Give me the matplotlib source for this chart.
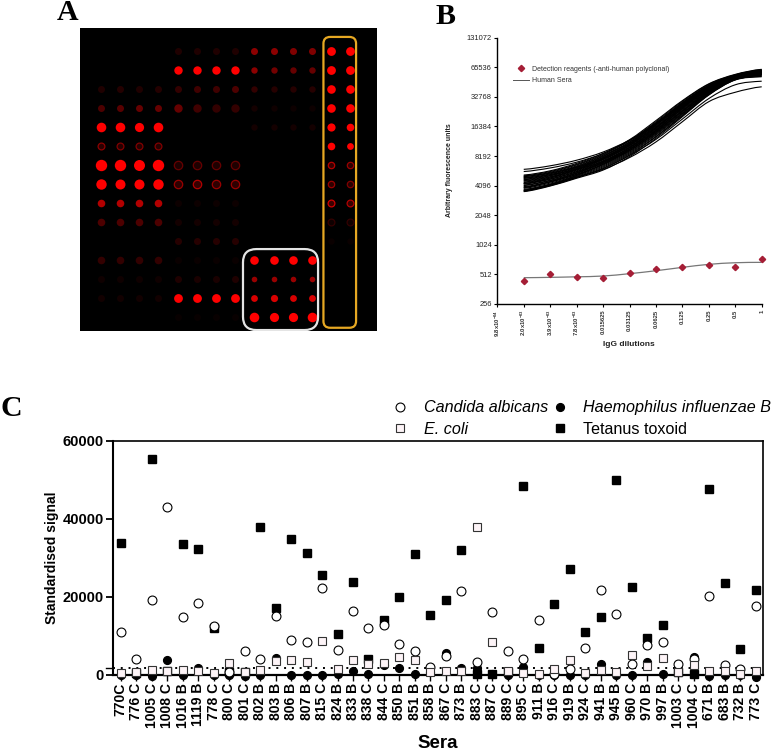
import math
import matplotlib
matplotlib.use("Agg")
import matplotlib.pyplot as plt
from matplotlib.lines import Line2D
from matplotlib.patches import FancyBboxPatch, PathPatch
from matplotlib.path import Path

plt.rcParams['font.family'] = ['Liberation Sans', 'DejaVu Sans']
plt.rcParams['mathtext.fontset'] = 'custom'
plt.rcParams['mathtext.rm'] = 'Liberation Sans:bold'
plt.rcParams['mathtext.default'] = 'rm'

W, H = 772, 753

# Panel A: red level of each spot, 15 rows x 14 columns
spot_level = [
    [0, 0, 0, 0, .12, .12, .12, .12, .55, .55, .5, .5, 1, 1],
    [0, 0, 0, 0, 1, 1, 1, 1, .55, .45, .4, .4, 1, 1],
    [.12, .14, .12, .14, .2, .25, .25, .3, .2, .15, .15, .15, 1, 1],
    [.3, .35, .4, .4, .4, .25, .2, .2, .08, .06, .05, .05, 1, 1],
    [1, 1, 1, 1, 0, 0, 0, 0, .08, .08, .08, .08, 1, 1],
    [.55, .5, .5, .5, 0, 0, 0, 0, 0, 0, 0, 0, 1, 1],
    [1, 1, 1, 1, .4, .4, .4, .4, 0, 0, 0, 0, .7, .6],
    [1, 1, 1, 1, .6, .7, .6, .6, 0, 0, 0, 0, .6, .5],
    [.7, .7, .7, .7, .05, .05, .05, .05, 0, 0, 0, 0, .8, .7],
    [.3, .3, .3, .3, .08, .08, .08, .08, 0, 0, 0, 0, .2, .2],
    [0, 0, 0, 0, .15, .15, .15, .15, 0, 0, 0, 0, .04, .04],
    [.2, .2, .2, .2, .04, .04, .04, .04, 1, 1, 1, 1, 0, 0],
    [.06, .06, .06, .06, .12, .1, .1, .12, .6, .6, .6, .6, 0, 0],
    [.07, .07, .07, .07, 1, 1, 1, 1, .85, .85, .85, .85, 0, 0],
    [0, 0, 0, 0, .03, .03, .03, .03, 1, 1, 1, 1, 0, 0],
]
spot_radius = [
    [3.5, 3.5, 3.5, 3.5, 3.5, 3.5, 3.5, 3.5, 3.5, 3.5, 3.5, 3.5, 4.4, 4.4],
    [3.5, 3.5, 3.5, 3.5, 4.2, 4.2, 4.2, 4.2, 3.2, 3.2, 3.2, 3.2, 4.4, 4.4],
    [3.5, 3.5, 3.5, 3.5, 3.5, 3.5, 3.5, 3.5, 3.2, 3.2, 3.2, 3.2, 4.3, 4.3],
    [3.5, 3.5, 3.5, 3.5, 4.2, 4.2, 4.2, 4.2, 3.2, 3.2, 3.2, 3.2, 4.3, 4.3],
    [4.8, 4.8, 4.6, 4.8, 3.5, 3.5, 3.5, 3.5, 3.2, 3.2, 3.2, 3.2, 4.1, 3.8],
    [3.4, 3.4, 3.4, 3.4, 3.5, 3.5, 3.5, 3.5, 3.2, 3.2, 3.2, 3.2, 3.8, 3.4],
    [5.7, 5.7, 5.5, 5.7, 4.2, 4.2, 4.2, 4.2, 3.2, 3.2, 3.2, 3.2, 3.2, 3.2],
    [5.2, 5.0, 5.0, 5.2, 4.2, 4.2, 4.2, 4.2, 3.2, 3.2, 3.2, 3.2, 3.2, 3.2],
    [3.8, 3.8, 3.8, 3.8, 3.5, 3.5, 3.5, 3.5, 3.2, 3.2, 3.2, 3.2, 3.4, 3.4],
    [3.8, 3.8, 3.8, 3.8, 3.5, 3.5, 3.5, 3.5, 3.2, 3.2, 3.2, 3.2, 3.4, 3.4],
    [3.5, 3.5, 3.5, 3.5, 3.5, 3.5, 3.5, 3.5, 3.2, 3.2, 3.2, 3.2, 3.2, 3.2],
    [3.8, 3.8, 3.8, 3.8, 3.5, 3.5, 3.5, 3.5, 4.3, 4.3, 4.3, 4.3, 3.2, 3.2],
    [3.5, 3.5, 3.5, 3.5, 3.5, 3.5, 3.5, 3.5, 2.8, 2.8, 2.8, 2.8, 3.2, 3.2],
    [3.5, 3.5, 3.5, 3.5, 4.4, 4.4, 4.4, 4.4, 3.4, 3.6, 3.4, 3.4, 3.2, 3.2],
    [3.5, 3.5, 3.5, 3.5, 3.5, 3.5, 3.5, 3.5, 4.8, 4.6, 4.6, 4.8, 3.2, 3.2],
]
# spots that show as a ring, (row, column)
ring_spots = [(5, 0), (5, 1), (5, 2), (5, 3),
              (6, 4), (6, 5), (6, 6), (6, 7),
              (7, 4), (7, 5), (7, 6), (7, 7),
              (6, 12), (6, 13), (7, 12), (7, 13), (8, 12), (8, 13), (9, 12), (9, 13)]

# Panel B
dilution_labels = ["9.8x10$^{-04}$", "2.0x10$^{-03}$", "3.9x10$^{-03}$", "7.8x10$^{-03}$",
                   "0.015625", "0.03125", "0.0625", "0.125", "0.25", "0.5", "1"]
dilution_pos = [1, 2, 3, 4, 5, 6, 7, 8, 9, 10]
reagent_points = [435, 513, 478, 474, 525, 576, 609, 633, 604, 741]
reagent_fit = [474, 478, 484, 493, 521, 558, 604, 648, 673, 679]
sera_curves = [
    [6000, 6520, 7430, 9000, 11900, 17200, 26500, 38500, 50500, 56000],
    [5700, 6200, 7100, 8700, 11800, 17800, 27500, 40000, 52000, 58000],
    [5250, 5800, 6900, 8700, 12000, 18800, 30000, 44500, 55500, 62500],
    [5150, 5700, 6750, 8500, 11700, 18300, 29500, 44000, 55000, 62000],
    [5050, 5600, 6650, 8350, 11400, 17800, 28800, 43000, 54500, 61500],
    [4950, 5500, 6500, 8200, 11300, 17600, 28000, 42500, 54000, 60500],
    [4850, 5400, 6400, 8100, 11100, 17200, 27800, 42000, 54500, 61000],
    [4750, 5300, 6300, 7950, 10900, 17000, 27300, 41500, 53500, 60000],
    [4700, 5200, 6200, 7850, 10800, 16500, 26800, 41000, 53000, 59500],
    [4600, 5150, 6100, 7700, 10600, 16200, 26300, 40500, 53000, 59000],
    [4550, 5050, 6000, 7600, 10400, 16000, 25800, 40000, 52500, 58500],
    [4450, 5000, 5900, 7500, 10200, 15700, 25500, 39500, 52000, 58000],
    [4400, 4900, 5800, 7350, 10000, 15400, 25000, 39000, 52000, 57500],
    [4300, 4800, 5700, 7250, 9900, 15100, 24500, 38500, 51500, 57000],
    [4250, 4750, 5650, 7100, 9700, 14800, 24000, 38000, 51000, 57000],
    [4150, 4650, 5550, 7000, 9500, 14500, 23500, 37500, 50500, 56500],
    [4100, 4600, 5450, 6900, 9300, 14200, 23000, 37000, 50500, 56000],
    [4000, 4500, 5350, 6750, 9200, 14000, 22500, 36500, 50000, 55500],
    [3950, 4450, 5300, 6650, 9000, 13700, 22200, 36000, 50000, 55000],
    [3850, 4350, 5200, 6500, 8800, 13400, 21800, 35500, 49500, 54500],
    [3750, 4250, 5100, 6350, 8600, 13000, 21300, 35000, 49000, 54000],
    [3650, 4150, 5000, 6200, 8400, 12800, 21000, 34500, 49000, 53000],
    [3560, 4060, 4870, 5900, 8080, 12400, 20600, 34200, 48700, 52500],
    [3620, 4100, 4950, 6100, 8300, 12100, 19500, 31500, 43500, 47300],
    [3700, 4200, 5000, 6000, 7900, 11400, 18300, 29300, 36500, 41500],
    [5100, 5500, 6300, 7700, 10500, 16800, 28000, 43000, 54000, 60000],
    [4300, 4900, 6000, 7800, 10900, 17500, 28500, 42500, 54000, 60500],
    [3900, 4500, 5500, 7100, 10000, 15800, 26000, 41000, 53000, 59500],
    [3600, 4200, 5200, 6800, 9500, 15000, 25000, 40000, 52500, 58500],
    [4900, 5300, 6000, 7200, 9600, 14500, 23500, 37000, 50000, 55500],
]

# Panel C
sera = ["770C", "776 C", "1005 C", "1008 C", "1016 B", "1119 B", "778 C", "800 C", "801 C",
        "802 B", "803 B", "806 B", "807 B", "815 C", "824 B", "833 B", "838 C", "844 C",
        "850 B", "851 B", "858 B", "867 C", "873 B", "883 C", "887 C", "889 C", "895 C",
        "911 B", "916 C", "919 B", "924 C", "941 B", "945 B", "960 C", "970 B", "997 B",
        "1003 C", "1004 C", "671 B", "683 B", "732 B", "773 C"]
tetanus = [33900, 500, 55300, 900, 33500, 32200, 11900, 800, 600, 38000, 17000, 34800, 31200, 25500,
           10400, 23800, 4100, 14000, 20000, 31000, 15200, 19300, 32100, 200, 200, 800, 48400,
           6900, 18200, 27100, 10900, 14700, 50000, 22400, 9300, 12750, 800, 200, 47800, 23450,
           6500, 21650]
haemophilus = [0, 0, -300, 3770, 0, 1600, 0, 0, -300, -200, 4200, 0, 0, -50, 300, 940, 100, 2400,
               1630, 170, 700, 5650, 1600, 1600, 170, -50, 1900, -50, 0, 0, -50, 2830, -50, 0, 3170,
               100, 700, 4600, -300, -50, -50, -500]
candida = [10900, 4000, 19250, 43050, 14800, 18500, 12500, 770, 6160, 3940, 15000, 9000, 8470, 22340,
           6330, 16260, 11900, 12840, 7880, 6000, 1970, 4800, 21570, 3250, 16000, 6080, 3940,
           14100, 100, 1540, 6930, 21700, 15660, 2650, 7600, 8400, 2740, 4000, 20100, 2570,
           1450, 17700]
ecoli = [350, 680, 1200, 1030, 1100, 940, 430, 3080, 600, 1200, 3600, 3680, 3250, 8560,
         1370, 3770, 2740, 2900, 4450, 3680, 680, 860, 860, 37800, 8470, 860, 510,
         100, 1450, 3770, 340, 1110, 770, 4960, 2230, 4200, 680, 2480, 860, 860,
         260, 1030]
cutoff = 1800


def px_axes(left, top, right, bottom):
    return fig.add_axes([left / W, 1 - bottom / H, (right - left) / W, (bottom - top) / H])


def smooth_line(ax, xs, ys, **kw):
    # prism fits are smooth, so join the read values with a bezier in log2 space
    ly = [math.log2(v) for v in ys]
    verts = [(xs[0], ys[0])]
    codes = [Path.MOVETO]
    n = len(xs)
    for i in range(n - 1):
        a = max(i - 1, 0)
        d = min(i + 2, n - 1)
        c1y = ly[i] + (ly[i + 1] - ly[a]) / 6
        c2y = ly[i + 1] - (ly[d] - ly[i]) / 6
        verts += [(xs[i] + 1 / 3, 2 ** c1y), (xs[i + 1] - 1 / 3, 2 ** c2y), (xs[i + 1], ys[i + 1])]
        codes += [Path.CURVE4] * 3
    ax.add_patch(PathPatch(Path(verts, codes), fill=False, **kw))


fig = plt.figure(figsize=(W / 100, H / 100), dpi=100)
to_pt = 72 / 100

# ---- A ----
ax_a = px_axes(80, 28, 377, 331)
ax_a.set_facecolor("black")
ax_a.set_xlim(-1.08, 14.39)
ax_a.set_ylim(14.75, -1.19)
ax_a.set_xticks([])
ax_a.set_yticks([])
for s in ax_a.spines.values():
    s.set_visible(False)
for r, row in enumerate(spot_level):
    for c, lev in enumerate(row):
        if lev == 0:
            continue
        size = (2 * spot_radius[r][c] * to_pt) ** 2
        if (r, c) in ring_spots:
            ax_a.scatter(c, r, s=size, facecolor=(lev * .3, 0, 0), edgecolor=(lev, 0, 0), linewidth=.9)
        else:
            ax_a.scatter(c, r, s=size, color=(lev, 0, 0), linewidth=0)
ax_a.add_patch(FancyBboxPatch((7.41, 10.44), 3.91, 4.26, boxstyle="round,pad=0,rounding_size=.7",
                              fill=False, edgecolor="#e4e4e4", linewidth=1.6))
ax_a.add_patch(FancyBboxPatch((11.6, -.72), 1.7, 15.3, boxstyle="round,pad=0,rounding_size=.35",
                              fill=False, edgecolor="#e6a823", linewidth=1.6))

# ---- B ----
ax_b = px_axes(497.3, 37.7, 761.7, 304)
ax_b.set_yscale("log", base=2)
ax_b.set_ylim(256, 131072)
ax_b.set_xlim(0, 10)
for curve in sera_curves:
    smooth_line(ax_b, dilution_pos, curve, edgecolor="black", linewidth=.8)
smooth_line(ax_b, dilution_pos, reagent_fit, edgecolor="#777777", linewidth=.9)
ax_b.plot(dilution_pos, reagent_points, linestyle="none", marker="D", markersize=3.2,
          color="#a51e36", clip_on=False)
y_ticks = [256, 512, 1024, 2048, 4096, 8192, 16384, 32768, 65536, 131072]
ax_b.set_yticks(y_ticks)
ax_b.set_yticklabels([str(t) for t in y_ticks], fontsize=5.4, color="#222222")
ax_b.minorticks_off()
ax_b.set_xticks(range(11))
ax_b.set_xticklabels(dilution_labels, rotation=90, fontsize=4.2, fontweight="bold", color="#333333")
ax_b.tick_params(length=2.5, width=.8, pad=1.5)
ax_b.spines["top"].set_visible(False)
ax_b.spines["right"].set_visible(False)
ax_b.spines["left"].set_linewidth(1)
ax_b.spines["bottom"].set_linewidth(1)
fig.text(629 / W, 1 - 344.5 / H, "IgG dilutions", fontsize=6, fontweight="bold",
         ha="center", va="center", color="#222222")
fig.text(449.5 / W, 1 - 170 / H, "Arbitrary fluorescence units", fontsize=5, fontweight="bold",
         rotation=90, ha="center", va="center", color="#222222")
b_handles = [Line2D([], [], linestyle="none", marker="D", markersize=3.2, color="#a51e36"),
             Line2D([], [], color="#555555", linewidth=.7)]
ax_b.legend(b_handles, ["Detection reagents (-anti-human polyclonal)", "Human Sera"],
            loc="upper left", bbox_to_anchor=(.06, .895), frameon=False, fontsize=5.05,
            labelcolor="#333333", handlelength=2.2, handletextpad=.5, labelspacing=.65,
            borderpad=0, borderaxespad=0)

# ---- C ----
ax_c = px_axes(113.3, 441, 763.3, 674.7)
x = list(range(len(sera)))
ms = 5.6
ax_c.axhline(cutoff, color="black", linestyle=(0, (1, 3)), linewidth=1.4, zorder=1)
ax_c.plot([-.95, -.476], [cutoff, cutoff], color="black", linewidth=1, clip_on=False, zorder=1)
ax_c.plot(x, tetanus, linestyle="none", marker="s", markersize=ms, color="black", clip_on=False, zorder=3)
ax_c.plot(x, haemophilus, linestyle="none", marker="o", markersize=ms, color="black", clip_on=False, zorder=3)
ax_c.plot(x, candida, linestyle="none", marker="o", markersize=ms + .8, markerfacecolor="white",
          markeredgecolor="black", markeredgewidth=.8, clip_on=False, zorder=4)
ax_c.plot(x, ecoli, linestyle="none", marker="s", markersize=ms + .4, markerfacecolor="#fdf4f7",
          markeredgecolor="#333333", markeredgewidth=.8, clip_on=False, zorder=5)
ax_c.set_xlim(-.476, 41.49)
ax_c.set_ylim(0, 60000)
ax_c.set_yticks([0, 20000, 40000, 60000])
ax_c.set_yticklabels(["0", "20000", "40000", "60000"], fontsize=10.5, fontweight="bold")
ax_c.set_xticks(x)
ax_c.set_xticklabels(sera, rotation=90, fontsize=10, fontweight="bold")
ax_c.tick_params(axis="y", length=5, width=1.3, pad=2)
ax_c.tick_params(axis="x", length=4, width=1, pad=2)
for side, lw in [("left", 1.5), ("bottom", 1.6), ("top", 1.2), ("right", 1.2)]:
    ax_c.spines[side].set_linewidth(lw)
fig.text(52 / W, 1 - 558 / H, "Standardised signal", fontsize=10, fontweight="bold",
         rotation=90, ha="center", va="center")
fig.text(438 / W, 1 - 743 / H, "Sera", fontsize=13.5, fontweight="bold", ha="center", va="center")
c_handles = [
    Line2D([], [], linestyle="none", marker="o", markersize=ms + .8, markerfacecolor="white",
           markeredgecolor="black", markeredgewidth=.8),
    Line2D([], [], linestyle="none", marker="s", markersize=ms + .4, markerfacecolor="#fdf4f7",
           markeredgecolor="#333333", markeredgewidth=.8),
    Line2D([], [], linestyle="none", marker="o", markersize=ms, color="black"),
    Line2D([], [], linestyle="none", marker="s", markersize=ms, color="black"),
]
leg = ax_c.legend(c_handles, ["Candida albicans", "E. coli", "Haemophilus influenzae B", "Tetanus toxoid"],
                  ncol=2, loc="lower left", bbox_to_anchor=(.429, 1.017), frameon=False, fontsize=11.6,
                  handlelength=1, handletextpad=.95, columnspacing=.25, labelspacing=.42,
                  borderpad=0, borderaxespad=0)
for t in leg.get_texts()[:3]:
    t.set_fontstyle("italic")

# panel letters
for letter, lx, ly in [("A", 57, 13), ("B", 435, 16), ("C", 0, 408)]:
    fig.text(lx / W, 1 - ly / H, letter, family="Liberation Serif", fontsize=21.5,
             fontweight="bold", ha="left", va="center")

fig.savefig("out.png", dpi=100)
